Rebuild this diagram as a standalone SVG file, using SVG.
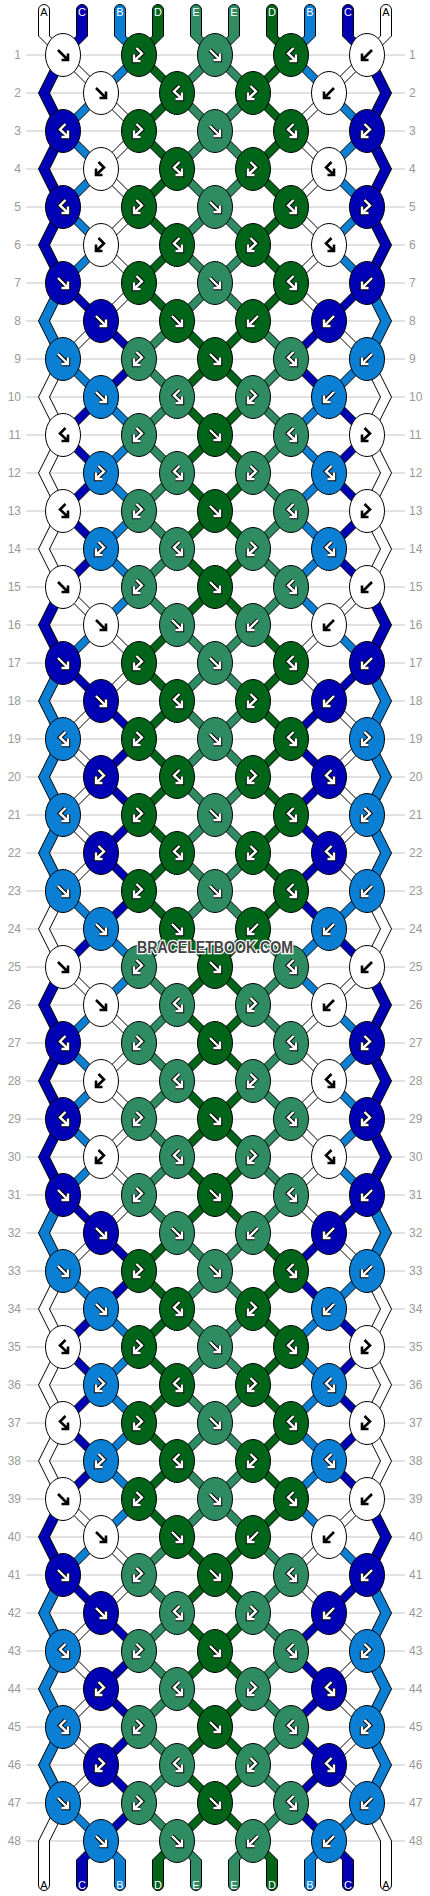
<svg xmlns="http://www.w3.org/2000/svg" xmlns:xlink="http://www.w3.org/1999/xlink" width="430" height="1896" viewBox="0 0 430 1896">
<style>
.gl{stroke:#c4c4c4;stroke-width:1;fill:none}
.s{stroke:#000;stroke-width:1;stroke-linejoin:miter}
.w{fill:#fff}.k{fill:#0000b4}.l{fill:#0a7fd4}.g{fill:#006419}.m{fill:#2e8b62}
.ab{stroke:#000;stroke-width:2.6}
.ao{stroke:#000;stroke-width:4.4}
.ai{stroke:#fff;stroke-width:2.4}
.rn{font-family:"Liberation Sans",Arial,sans-serif;font-size:12px;fill:#999}
.lb{font-family:"Liberation Sans",Arial,sans-serif;font-size:11px;text-anchor:middle;fill:#fff}
.lb .a{fill:#000}
.wm{font-family:"Liberation Sans",Arial,sans-serif;font-weight:bold;font-size:16px;fill:#444;stroke:#fff;stroke-width:2.5;paint-order:stroke;text-anchor:middle}
</style>
<defs>
<ellipse id="e" rx="17.5" ry="21.5" stroke="#000" stroke-width="1"/>
<path id="sf" fill="none" d="M-5,-5L4,4M-1.5,5H5V-1.5"/>
<path id="sb" fill="none" d="M5,-5L-4,4M1.5,5H-5V-1.5"/>
<path id="sp" fill="none" d="M2.5,-7L-3,-1.5L4,5M-1.5,6H5V-0.5"/>
<path id="sq" fill="none" d="M-2.5,-7L3,-1.5L-4,5M1.5,6H-5V-0.5"/>
<g id="fB"><use href="#sf" class="ab"/></g>
<g id="bB"><use href="#sb" class="ab"/></g>
<g id="pB"><use href="#sp" class="ab"/></g>
<g id="qB"><use href="#sq" class="ab"/></g>
<g id="fW"><use href="#sf" class="ao"/><use href="#sf" class="ai"/></g>
<g id="bW"><use href="#sb" class="ao"/><use href="#sb" class="ai"/></g>
<g id="pW"><use href="#sp" class="ao"/><use href="#sp" class="ai"/></g>
<g id="qW"><use href="#sq" class="ao"/><use href="#sq" class="ai"/></g>
</defs>
<rect width="430" height="1896" fill="#fff"/>
<path class="gl" d="M26,55H405M26,93H405M26,131H405M26,169H405M26,207H405M26,245H405M26,283H405M26,321H405M26,359H405M26,397H405M26,435H405M26,473H405M26,511H405M26,549H405M26,587H405M26,625H405M26,663H405M26,701H405M26,739H405M26,777H405M26,815H405M26,853H405M26,891H405M26,929H405M26,967H405M26,1005H405M26,1043H405M26,1081H405M26,1119H405M26,1157H405M26,1195H405M26,1233H405M26,1271H405M26,1309H405M26,1347H405M26,1385H405M26,1423H405M26,1461H405M26,1499H405M26,1537H405M26,1575H405M26,1613H405M26,1651H405M26,1689H405M26,1727H405M26,1765H405M26,1803H405M26,1841H405"/>
<g id="connectors">
<path class="w s" d="M38.5,36V10A5.5,5.5 0 0 1 49.5,10V36L68.5,55H57.5ZM380.5,36V10A5.5,5.5 0 0 1 391.5,10V36L372.5,55H361.5ZM57.5,1803L38.5,1841V1885A5.5,5.5 0 0 0 49.5,1885V1841L68.5,1803ZM361.5,1803L380.5,1841V1885A5.5,5.5 0 0 0 391.5,1885V1841L372.5,1803Z
M57.5,359l-19,38l19,38h11l-19,-38l19,-38zM361.5,359l19,38l-19,38h11l19,-38l-19,-38z
M57.5,435l-19,38l19,38h11l-19,-38l19,-38zM361.5,435l19,38l-19,38h11l19,-38l-19,-38z
M57.5,511l-19,38l19,38h11l-19,-38l19,-38zM361.5,511l19,38l-19,38h11l19,-38l-19,-38z
M57.5,891l-19,38l19,38h11l-19,-38l19,-38zM361.5,891l19,38l-19,38h11l19,-38l-19,-38z
M57.5,1271l-19,38l19,38h11l-19,-38l19,-38zM361.5,1271l19,38l-19,38h11l19,-38l-19,-38z
M57.5,1347l-19,38l19,38h11l-19,-38l19,-38zM361.5,1347l19,38l-19,38h11l19,-38l-19,-38z
M57.5,1423l-19,38l19,38h11l-19,-38l19,-38zM361.5,1423l19,38l-19,38h11l19,-38l-19,-38z
M57.5,55h11l38,38h-11zM361.5,55h11l-38,38h-11z
M95.5,93h11l38,38h-11zM323.5,93h11l-38,38h-11z
M133.5,131h11l-38,38h-11zM285.5,131h11l38,38h-11z
M95.5,169h11l38,38h-11zM323.5,169h11l-38,38h-11z
M133.5,207h11l-38,38h-11zM285.5,207h11l38,38h-11z
M95.5,245h11l38,38h-11zM323.5,245h11l-38,38h-11z
M133.5,283h11l-38,38h-11zM285.5,283h11l38,38h-11z
M95.5,321h11l-38,38h-11zM323.5,321h11l38,38h-11z
M57.5,587h11l38,38h-11zM361.5,587h11l-38,38h-11z
M95.5,625h11l38,38h-11zM323.5,625h11l-38,38h-11z
M133.5,663h11l-38,38h-11zM285.5,663h11l38,38h-11z
M95.5,701h11l-38,38h-11zM323.5,701h11l38,38h-11z
M57.5,739h11l38,38h-11zM361.5,739h11l-38,38h-11z
M95.5,777h11l-38,38h-11zM323.5,777h11l38,38h-11z
M57.5,815h11l38,38h-11zM361.5,815h11l-38,38h-11z
M95.5,853h11l-38,38h-11zM323.5,853h11l38,38h-11z
M57.5,967h11l38,38h-11zM361.5,967h11l-38,38h-11z
M95.5,1005h11l38,38h-11zM323.5,1005h11l-38,38h-11z
M133.5,1043h11l-38,38h-11zM285.5,1043h11l38,38h-11z
M95.5,1081h11l38,38h-11zM323.5,1081h11l-38,38h-11z
M133.5,1119h11l-38,38h-11zM285.5,1119h11l38,38h-11z
M95.5,1157h11l38,38h-11zM323.5,1157h11l-38,38h-11z
M133.5,1195h11l-38,38h-11zM285.5,1195h11l38,38h-11z
M95.5,1233h11l-38,38h-11zM323.5,1233h11l38,38h-11z
M57.5,1499h11l38,38h-11zM361.5,1499h11l-38,38h-11z
M95.5,1537h11l38,38h-11zM323.5,1537h11l-38,38h-11z
M133.5,1575h11l-38,38h-11zM285.5,1575h11l38,38h-11z
M95.5,1613h11l-38,38h-11zM323.5,1613h11l38,38h-11z
M57.5,1651h11l38,38h-11zM361.5,1651h11l-38,38h-11z
M95.5,1689h11l-38,38h-11zM323.5,1689h11l38,38h-11z
M57.5,1727h11l38,38h-11zM361.5,1727h11l-38,38h-11z
M95.5,1765h11l-38,38h-11zM323.5,1765h11l38,38h-11z"/>
<path class="k s" d="M76.5,36V10A5.5,5.5 0 0 1 87.5,10V36L68.5,55H57.5ZM342.5,36V10A5.5,5.5 0 0 1 353.5,10V36L372.5,55H361.5ZM95.5,1841L76.5,1860V1885A5.5,5.5 0 0 0 87.5,1885V1860L106.5,1841ZM323.5,1841L342.5,1860V1885A5.5,5.5 0 0 0 353.5,1885V1860L334.5,1841Z
M57.5,55l-19,38l19,38h11l-19,-38l19,-38zM361.5,55l19,38l-19,38h11l19,-38l-19,-38z
M57.5,131l-19,38l19,38h11l-19,-38l19,-38zM361.5,131l19,38l-19,38h11l19,-38l-19,-38z
M57.5,207l-19,38l19,38h11l-19,-38l19,-38zM361.5,207l19,38l-19,38h11l19,-38l-19,-38z
M57.5,587l-19,38l19,38h11l-19,-38l19,-38zM361.5,587l19,38l-19,38h11l19,-38l-19,-38z
M57.5,967l-19,38l19,38h11l-19,-38l19,-38zM361.5,967l19,38l-19,38h11l19,-38l-19,-38z
M57.5,1043l-19,38l19,38h11l-19,-38l19,-38zM361.5,1043l19,38l-19,38h11l19,-38l-19,-38z
M57.5,1119l-19,38l19,38h11l-19,-38l19,-38zM361.5,1119l19,38l-19,38h11l19,-38l-19,-38z
M57.5,1499l-19,38l19,38h11l-19,-38l19,-38zM361.5,1499l19,38l-19,38h11l19,-38l-19,-38z
M57.5,283h11l38,38h-11zM361.5,283h11l-38,38h-11z
M95.5,321h11l38,38h-11zM323.5,321h11l-38,38h-11z
M133.5,359h11l-38,38h-11zM285.5,359h11l38,38h-11z
M95.5,397h11l-38,38h-11zM323.5,397h11l38,38h-11z
M57.5,435h11l38,38h-11zM361.5,435h11l-38,38h-11z
M95.5,473h11l-38,38h-11zM323.5,473h11l38,38h-11z
M57.5,511h11l38,38h-11zM361.5,511h11l-38,38h-11z
M95.5,549h11l-38,38h-11zM323.5,549h11l38,38h-11z
M57.5,663h11l38,38h-11zM361.5,663h11l-38,38h-11z
M95.5,701h11l38,38h-11zM323.5,701h11l-38,38h-11z
M133.5,739h11l-38,38h-11zM285.5,739h11l38,38h-11z
M95.5,777h11l38,38h-11zM323.5,777h11l-38,38h-11z
M133.5,815h11l-38,38h-11zM285.5,815h11l38,38h-11z
M95.5,853h11l38,38h-11zM323.5,853h11l-38,38h-11z
M133.5,891h11l-38,38h-11zM285.5,891h11l38,38h-11z
M95.5,929h11l-38,38h-11zM323.5,929h11l38,38h-11z
M57.5,1195h11l38,38h-11zM361.5,1195h11l-38,38h-11z
M95.5,1233h11l38,38h-11zM323.5,1233h11l-38,38h-11z
M133.5,1271h11l-38,38h-11zM285.5,1271h11l38,38h-11z
M95.5,1309h11l-38,38h-11zM323.5,1309h11l38,38h-11z
M57.5,1347h11l38,38h-11zM361.5,1347h11l-38,38h-11z
M95.5,1385h11l-38,38h-11zM323.5,1385h11l38,38h-11z
M57.5,1423h11l38,38h-11zM361.5,1423h11l-38,38h-11z
M95.5,1461h11l-38,38h-11zM323.5,1461h11l38,38h-11z
M57.5,1575h11l38,38h-11zM361.5,1575h11l-38,38h-11z
M95.5,1613h11l38,38h-11zM323.5,1613h11l-38,38h-11z
M133.5,1651h11l-38,38h-11zM285.5,1651h11l38,38h-11z
M95.5,1689h11l38,38h-11zM323.5,1689h11l-38,38h-11z
M133.5,1727h11l-38,38h-11zM285.5,1727h11l38,38h-11z
M95.5,1765h11l38,38h-11zM323.5,1765h11l-38,38h-11z
M133.5,1803h11l-38,38h-11zM285.5,1803h11l38,38h-11z"/>
<path class="l s" d="M114.5,36V10A5.5,5.5 0 0 1 125.5,10V36L144.5,55H133.5ZM304.5,36V10A5.5,5.5 0 0 1 315.5,10V36L296.5,55H285.5ZM95.5,1841L114.5,1860V1885A5.5,5.5 0 0 0 125.5,1885V1860L106.5,1841ZM323.5,1841L304.5,1860V1885A5.5,5.5 0 0 0 315.5,1885V1860L334.5,1841Z
M57.5,283l-19,38l19,38h11l-19,-38l19,-38zM361.5,283l19,38l-19,38h11l19,-38l-19,-38z
M57.5,663l-19,38l19,38h11l-19,-38l19,-38zM361.5,663l19,38l-19,38h11l19,-38l-19,-38z
M57.5,739l-19,38l19,38h11l-19,-38l19,-38zM361.5,739l19,38l-19,38h11l19,-38l-19,-38z
M57.5,815l-19,38l19,38h11l-19,-38l19,-38zM361.5,815l19,38l-19,38h11l19,-38l-19,-38z
M57.5,1195l-19,38l19,38h11l-19,-38l19,-38zM361.5,1195l19,38l-19,38h11l19,-38l-19,-38z
M57.5,1575l-19,38l19,38h11l-19,-38l19,-38zM361.5,1575l19,38l-19,38h11l19,-38l-19,-38z
M57.5,1651l-19,38l19,38h11l-19,-38l19,-38zM361.5,1651l19,38l-19,38h11l19,-38l-19,-38z
M57.5,1727l-19,38l19,38h11l-19,-38l19,-38zM361.5,1727l19,38l-19,38h11l19,-38l-19,-38z
M133.5,55h11l-38,38h-11zM285.5,55h11l38,38h-11z
M95.5,93h11l-38,38h-11zM323.5,93h11l38,38h-11z
M57.5,131h11l38,38h-11zM361.5,131h11l-38,38h-11z
M95.5,169h11l-38,38h-11zM323.5,169h11l38,38h-11z
M57.5,207h11l38,38h-11zM361.5,207h11l-38,38h-11z
M95.5,245h11l-38,38h-11zM323.5,245h11l38,38h-11z
M57.5,359h11l38,38h-11zM361.5,359h11l-38,38h-11z
M95.5,397h11l38,38h-11zM323.5,397h11l-38,38h-11z
M133.5,435h11l-38,38h-11zM285.5,435h11l38,38h-11z
M95.5,473h11l38,38h-11zM323.5,473h11l-38,38h-11z
M133.5,511h11l-38,38h-11zM285.5,511h11l38,38h-11z
M95.5,549h11l38,38h-11zM323.5,549h11l-38,38h-11z
M133.5,587h11l-38,38h-11zM285.5,587h11l38,38h-11z
M95.5,625h11l-38,38h-11zM323.5,625h11l38,38h-11z
M57.5,891h11l38,38h-11zM361.5,891h11l-38,38h-11z
M95.5,929h11l38,38h-11zM323.5,929h11l-38,38h-11z
M133.5,967h11l-38,38h-11zM285.5,967h11l38,38h-11z
M95.5,1005h11l-38,38h-11zM323.5,1005h11l38,38h-11z
M57.5,1043h11l38,38h-11zM361.5,1043h11l-38,38h-11z
M95.5,1081h11l-38,38h-11zM323.5,1081h11l38,38h-11z
M57.5,1119h11l38,38h-11zM361.5,1119h11l-38,38h-11z
M95.5,1157h11l-38,38h-11zM323.5,1157h11l38,38h-11z
M57.5,1271h11l38,38h-11zM361.5,1271h11l-38,38h-11z
M95.5,1309h11l38,38h-11zM323.5,1309h11l-38,38h-11z
M133.5,1347h11l-38,38h-11zM285.5,1347h11l38,38h-11z
M95.5,1385h11l38,38h-11zM323.5,1385h11l-38,38h-11z
M133.5,1423h11l-38,38h-11zM285.5,1423h11l38,38h-11z
M95.5,1461h11l38,38h-11zM323.5,1461h11l-38,38h-11z
M133.5,1499h11l-38,38h-11zM285.5,1499h11l38,38h-11z
M95.5,1537h11l-38,38h-11zM323.5,1537h11l38,38h-11z
M57.5,1803h11l38,38h-11zM361.5,1803h11l-38,38h-11z"/>
<path class="g s" d="M152.5,36V10A5.5,5.5 0 0 1 163.5,10V36L144.5,55H133.5ZM266.5,36V10A5.5,5.5 0 0 1 277.5,10V36L296.5,55H285.5ZM171.5,1841L152.5,1860V1885A5.5,5.5 0 0 0 163.5,1885V1860L182.5,1841ZM247.5,1841L266.5,1860V1885A5.5,5.5 0 0 0 277.5,1885V1860L258.5,1841Z
M133.5,55h11l38,38h-11zM285.5,55h11l-38,38h-11zM171.5,93h11l-38,38h-11zM247.5,93h11l38,38h-11z
M133.5,131h11l38,38h-11zM285.5,131h11l-38,38h-11zM171.5,169h11l-38,38h-11zM247.5,169h11l38,38h-11z
M133.5,207h11l38,38h-11zM285.5,207h11l-38,38h-11zM171.5,245h11l-38,38h-11zM247.5,245h11l38,38h-11z
M133.5,283h11l38,38h-11zM285.5,283h11l-38,38h-11z
M171.5,321h11l38,38h-11zM247.5,321h11l-38,38h-11zM209.5,359h11l-38,38h-11zM209.5,359h11l38,38h-11z
M171.5,397h11l38,38h-11zM247.5,397h11l-38,38h-11zM209.5,435h11l-38,38h-11zM209.5,435h11l38,38h-11z
M171.5,473h11l38,38h-11zM247.5,473h11l-38,38h-11zM209.5,511h11l-38,38h-11zM209.5,511h11l38,38h-11z
M171.5,549h11l38,38h-11zM247.5,549h11l-38,38h-11zM209.5,587h11l-38,38h-11zM209.5,587h11l38,38h-11z
M171.5,625h11l-38,38h-11zM247.5,625h11l38,38h-11zM133.5,663h11l38,38h-11zM285.5,663h11l-38,38h-11z
M171.5,701h11l-38,38h-11zM247.5,701h11l38,38h-11zM133.5,739h11l38,38h-11zM285.5,739h11l-38,38h-11z
M171.5,777h11l-38,38h-11zM247.5,777h11l38,38h-11zM133.5,815h11l38,38h-11zM285.5,815h11l-38,38h-11z
M171.5,853h11l-38,38h-11zM247.5,853h11l38,38h-11zM133.5,891h11l38,38h-11zM285.5,891h11l-38,38h-11z
M171.5,929h11l38,38h-11zM247.5,929h11l-38,38h-11zM209.5,967h11l-38,38h-11zM209.5,967h11l38,38h-11z
M171.5,1005h11l38,38h-11zM247.5,1005h11l-38,38h-11zM209.5,1043h11l-38,38h-11zM209.5,1043h11l38,38h-11z
M171.5,1081h11l38,38h-11zM247.5,1081h11l-38,38h-11zM209.5,1119h11l-38,38h-11zM209.5,1119h11l38,38h-11z
M171.5,1157h11l38,38h-11zM247.5,1157h11l-38,38h-11zM209.5,1195h11l-38,38h-11zM209.5,1195h11l38,38h-11z
M171.5,1233h11l-38,38h-11zM247.5,1233h11l38,38h-11zM133.5,1271h11l38,38h-11zM285.5,1271h11l-38,38h-11z
M171.5,1309h11l-38,38h-11zM247.5,1309h11l38,38h-11zM133.5,1347h11l38,38h-11zM285.5,1347h11l-38,38h-11z
M171.5,1385h11l-38,38h-11zM247.5,1385h11l38,38h-11zM133.5,1423h11l38,38h-11zM285.5,1423h11l-38,38h-11z
M171.5,1461h11l-38,38h-11zM247.5,1461h11l38,38h-11zM133.5,1499h11l38,38h-11zM285.5,1499h11l-38,38h-11z
M171.5,1537h11l38,38h-11zM247.5,1537h11l-38,38h-11zM209.5,1575h11l-38,38h-11zM209.5,1575h11l38,38h-11z
M171.5,1613h11l38,38h-11zM247.5,1613h11l-38,38h-11zM209.5,1651h11l-38,38h-11zM209.5,1651h11l38,38h-11z
M171.5,1689h11l38,38h-11zM247.5,1689h11l-38,38h-11zM209.5,1727h11l-38,38h-11zM209.5,1727h11l38,38h-11z
M171.5,1765h11l38,38h-11zM247.5,1765h11l-38,38h-11zM209.5,1803h11l-38,38h-11zM209.5,1803h11l38,38h-11z"/>
<path class="m s" d="M190.5,36V10A5.5,5.5 0 0 1 201.5,10V36L220.5,55H209.5ZM228.5,36V10A5.5,5.5 0 0 1 239.5,10V36L220.5,55H209.5ZM171.5,1841L190.5,1860V1885A5.5,5.5 0 0 0 201.5,1885V1860L182.5,1841ZM247.5,1841L228.5,1860V1885A5.5,5.5 0 0 0 239.5,1885V1860L258.5,1841Z
M209.5,55h11l-38,38h-11zM209.5,55h11l38,38h-11zM171.5,93h11l38,38h-11zM247.5,93h11l-38,38h-11z
M209.5,131h11l-38,38h-11zM209.5,131h11l38,38h-11zM171.5,169h11l38,38h-11zM247.5,169h11l-38,38h-11z
M209.5,207h11l-38,38h-11zM209.5,207h11l38,38h-11zM171.5,245h11l38,38h-11zM247.5,245h11l-38,38h-11z
M209.5,283h11l-38,38h-11zM209.5,283h11l38,38h-11z
M171.5,321h11l-38,38h-11zM247.5,321h11l38,38h-11zM133.5,359h11l38,38h-11zM285.5,359h11l-38,38h-11z
M171.5,397h11l-38,38h-11zM247.5,397h11l38,38h-11zM133.5,435h11l38,38h-11zM285.5,435h11l-38,38h-11z
M171.5,473h11l-38,38h-11zM247.5,473h11l38,38h-11zM133.5,511h11l38,38h-11zM285.5,511h11l-38,38h-11z
M171.5,549h11l-38,38h-11zM247.5,549h11l38,38h-11zM133.5,587h11l38,38h-11zM285.5,587h11l-38,38h-11z
M171.5,625h11l38,38h-11zM247.5,625h11l-38,38h-11zM209.5,663h11l-38,38h-11zM209.5,663h11l38,38h-11z
M171.5,701h11l38,38h-11zM247.5,701h11l-38,38h-11zM209.5,739h11l-38,38h-11zM209.5,739h11l38,38h-11z
M171.5,777h11l38,38h-11zM247.5,777h11l-38,38h-11zM209.5,815h11l-38,38h-11zM209.5,815h11l38,38h-11z
M171.5,853h11l38,38h-11zM247.5,853h11l-38,38h-11zM209.5,891h11l-38,38h-11zM209.5,891h11l38,38h-11z
M171.5,929h11l-38,38h-11zM247.5,929h11l38,38h-11zM133.5,967h11l38,38h-11zM285.5,967h11l-38,38h-11z
M171.5,1005h11l-38,38h-11zM247.5,1005h11l38,38h-11zM133.5,1043h11l38,38h-11zM285.5,1043h11l-38,38h-11z
M171.5,1081h11l-38,38h-11zM247.5,1081h11l38,38h-11zM133.5,1119h11l38,38h-11zM285.5,1119h11l-38,38h-11z
M171.5,1157h11l-38,38h-11zM247.5,1157h11l38,38h-11zM133.5,1195h11l38,38h-11zM285.5,1195h11l-38,38h-11z
M171.5,1233h11l38,38h-11zM247.5,1233h11l-38,38h-11zM209.5,1271h11l-38,38h-11zM209.5,1271h11l38,38h-11z
M171.5,1309h11l38,38h-11zM247.5,1309h11l-38,38h-11zM209.5,1347h11l-38,38h-11zM209.5,1347h11l38,38h-11z
M171.5,1385h11l38,38h-11zM247.5,1385h11l-38,38h-11zM209.5,1423h11l-38,38h-11zM209.5,1423h11l38,38h-11z
M171.5,1461h11l38,38h-11zM247.5,1461h11l-38,38h-11zM209.5,1499h11l-38,38h-11zM209.5,1499h11l38,38h-11z
M171.5,1537h11l-38,38h-11zM247.5,1537h11l38,38h-11zM133.5,1575h11l38,38h-11zM285.5,1575h11l-38,38h-11z
M171.5,1613h11l-38,38h-11zM247.5,1613h11l38,38h-11zM133.5,1651h11l38,38h-11zM285.5,1651h11l-38,38h-11z
M171.5,1689h11l-38,38h-11zM247.5,1689h11l38,38h-11zM133.5,1727h11l38,38h-11zM285.5,1727h11l-38,38h-11z
M171.5,1765h11l-38,38h-11zM247.5,1765h11l38,38h-11zM133.5,1803h11l38,38h-11zM285.5,1803h11l-38,38h-11z"/>
</g>
<g id="knots">
<g id="k1a" transform="translate(63,55)"><use href="#e" class="w"/><use href="#fB"/></g>
<g id="k1b" transform="translate(139,55)"><use href="#e" class="g"/><use href="#qW"/></g>
<g id="k1c" transform="translate(215,55)"><use href="#e" class="m"/><use href="#fW"/></g>
<g id="k1d" transform="translate(291,55)"><use href="#e" class="g"/><use href="#pW"/></g>
<g id="k1e" transform="translate(367,55)"><use href="#e" class="w"/><use href="#bB"/></g>
<g id="k2a" transform="translate(101,93)"><use href="#e" class="w"/><use href="#fB"/></g>
<g id="k2b" transform="translate(177,93)"><use href="#e" class="g"/><use href="#pW"/></g>
<g id="k2c" transform="translate(253,93)"><use href="#e" class="g"/><use href="#qW"/></g>
<g id="k2d" transform="translate(329,93)"><use href="#e" class="w"/><use href="#bB"/></g>
<g id="k3a" transform="translate(63,131)"><use href="#e" class="k"/><use href="#pW"/></g>
<g id="k3b" transform="translate(139,131)"><use href="#e" class="g"/><use href="#qW"/></g>
<g id="k3c" transform="translate(215,131)"><use href="#e" class="m"/><use href="#fW"/></g>
<g id="k3d" transform="translate(291,131)"><use href="#e" class="g"/><use href="#pW"/></g>
<g id="k3e" transform="translate(367,131)"><use href="#e" class="k"/><use href="#qW"/></g>
<g id="k4a" transform="translate(101,169)"><use href="#e" class="w"/><use href="#qB"/></g>
<g id="k4b" transform="translate(177,169)"><use href="#e" class="g"/><use href="#pW"/></g>
<g id="k4c" transform="translate(253,169)"><use href="#e" class="g"/><use href="#qW"/></g>
<g id="k4d" transform="translate(329,169)"><use href="#e" class="w"/><use href="#pB"/></g>
<g id="k5a" transform="translate(63,207)"><use href="#e" class="k"/><use href="#pW"/></g>
<g id="k5b" transform="translate(139,207)"><use href="#e" class="g"/><use href="#qW"/></g>
<g id="k5c" transform="translate(215,207)"><use href="#e" class="m"/><use href="#fW"/></g>
<g id="k5d" transform="translate(291,207)"><use href="#e" class="g"/><use href="#pW"/></g>
<g id="k5e" transform="translate(367,207)"><use href="#e" class="k"/><use href="#qW"/></g>
<g id="k6a" transform="translate(101,245)"><use href="#e" class="w"/><use href="#qB"/></g>
<g id="k6b" transform="translate(177,245)"><use href="#e" class="g"/><use href="#pW"/></g>
<g id="k6c" transform="translate(253,245)"><use href="#e" class="g"/><use href="#qW"/></g>
<g id="k6d" transform="translate(329,245)"><use href="#e" class="w"/><use href="#pB"/></g>
<g id="k7a" transform="translate(63,283)"><use href="#e" class="k"/><use href="#fW"/></g>
<g id="k7b" transform="translate(139,283)"><use href="#e" class="g"/><use href="#qW"/></g>
<g id="k7c" transform="translate(215,283)"><use href="#e" class="m"/><use href="#fW"/></g>
<g id="k7d" transform="translate(291,283)"><use href="#e" class="g"/><use href="#pW"/></g>
<g id="k7e" transform="translate(367,283)"><use href="#e" class="k"/><use href="#bW"/></g>
<g id="k8a" transform="translate(101,321)"><use href="#e" class="k"/><use href="#fW"/></g>
<g id="k8b" transform="translate(177,321)"><use href="#e" class="g"/><use href="#fW"/></g>
<g id="k8c" transform="translate(253,321)"><use href="#e" class="g"/><use href="#bW"/></g>
<g id="k8d" transform="translate(329,321)"><use href="#e" class="k"/><use href="#bW"/></g>
<g id="k9a" transform="translate(63,359)"><use href="#e" class="l"/><use href="#fW"/></g>
<g id="k9b" transform="translate(139,359)"><use href="#e" class="m"/><use href="#qW"/></g>
<g id="k9c" transform="translate(215,359)"><use href="#e" class="g"/><use href="#fW"/></g>
<g id="k9d" transform="translate(291,359)"><use href="#e" class="m"/><use href="#pW"/></g>
<g id="k9e" transform="translate(367,359)"><use href="#e" class="l"/><use href="#bW"/></g>
<g id="k10a" transform="translate(101,397)"><use href="#e" class="l"/><use href="#fW"/></g>
<g id="k10b" transform="translate(177,397)"><use href="#e" class="m"/><use href="#pW"/></g>
<g id="k10c" transform="translate(253,397)"><use href="#e" class="m"/><use href="#qW"/></g>
<g id="k10d" transform="translate(329,397)"><use href="#e" class="l"/><use href="#bW"/></g>
<g id="k11a" transform="translate(63,435)"><use href="#e" class="w"/><use href="#pB"/></g>
<g id="k11b" transform="translate(139,435)"><use href="#e" class="m"/><use href="#qW"/></g>
<g id="k11c" transform="translate(215,435)"><use href="#e" class="g"/><use href="#fW"/></g>
<g id="k11d" transform="translate(291,435)"><use href="#e" class="m"/><use href="#pW"/></g>
<g id="k11e" transform="translate(367,435)"><use href="#e" class="w"/><use href="#qB"/></g>
<g id="k12a" transform="translate(101,473)"><use href="#e" class="l"/><use href="#qW"/></g>
<g id="k12b" transform="translate(177,473)"><use href="#e" class="m"/><use href="#pW"/></g>
<g id="k12c" transform="translate(253,473)"><use href="#e" class="m"/><use href="#qW"/></g>
<g id="k12d" transform="translate(329,473)"><use href="#e" class="l"/><use href="#pW"/></g>
<g id="k13a" transform="translate(63,511)"><use href="#e" class="w"/><use href="#pB"/></g>
<g id="k13b" transform="translate(139,511)"><use href="#e" class="m"/><use href="#qW"/></g>
<g id="k13c" transform="translate(215,511)"><use href="#e" class="g"/><use href="#fW"/></g>
<g id="k13d" transform="translate(291,511)"><use href="#e" class="m"/><use href="#pW"/></g>
<g id="k13e" transform="translate(367,511)"><use href="#e" class="w"/><use href="#qB"/></g>
<g id="k14a" transform="translate(101,549)"><use href="#e" class="l"/><use href="#qW"/></g>
<g id="k14b" transform="translate(177,549)"><use href="#e" class="m"/><use href="#pW"/></g>
<g id="k14c" transform="translate(253,549)"><use href="#e" class="m"/><use href="#qW"/></g>
<g id="k14d" transform="translate(329,549)"><use href="#e" class="l"/><use href="#pW"/></g>
<g id="k15a" transform="translate(63,587)"><use href="#e" class="w"/><use href="#fB"/></g>
<g id="k15b" transform="translate(139,587)"><use href="#e" class="m"/><use href="#qW"/></g>
<g id="k15c" transform="translate(215,587)"><use href="#e" class="g"/><use href="#fW"/></g>
<g id="k15d" transform="translate(291,587)"><use href="#e" class="m"/><use href="#pW"/></g>
<g id="k15e" transform="translate(367,587)"><use href="#e" class="w"/><use href="#bB"/></g>
<g id="k16a" transform="translate(101,625)"><use href="#e" class="w"/><use href="#fB"/></g>
<g id="k16b" transform="translate(177,625)"><use href="#e" class="m"/><use href="#fW"/></g>
<g id="k16c" transform="translate(253,625)"><use href="#e" class="m"/><use href="#bW"/></g>
<g id="k16d" transform="translate(329,625)"><use href="#e" class="w"/><use href="#bB"/></g>
<g id="k17a" transform="translate(63,663)"><use href="#e" class="k"/><use href="#fW"/></g>
<g id="k17b" transform="translate(139,663)"><use href="#e" class="g"/><use href="#qW"/></g>
<g id="k17c" transform="translate(215,663)"><use href="#e" class="m"/><use href="#fW"/></g>
<g id="k17d" transform="translate(291,663)"><use href="#e" class="g"/><use href="#pW"/></g>
<g id="k17e" transform="translate(367,663)"><use href="#e" class="k"/><use href="#bW"/></g>
<g id="k18a" transform="translate(101,701)"><use href="#e" class="k"/><use href="#fW"/></g>
<g id="k18b" transform="translate(177,701)"><use href="#e" class="g"/><use href="#pW"/></g>
<g id="k18c" transform="translate(253,701)"><use href="#e" class="g"/><use href="#qW"/></g>
<g id="k18d" transform="translate(329,701)"><use href="#e" class="k"/><use href="#bW"/></g>
<g id="k19a" transform="translate(63,739)"><use href="#e" class="l"/><use href="#pW"/></g>
<g id="k19b" transform="translate(139,739)"><use href="#e" class="g"/><use href="#qW"/></g>
<g id="k19c" transform="translate(215,739)"><use href="#e" class="m"/><use href="#fW"/></g>
<g id="k19d" transform="translate(291,739)"><use href="#e" class="g"/><use href="#pW"/></g>
<g id="k19e" transform="translate(367,739)"><use href="#e" class="l"/><use href="#qW"/></g>
<g id="k20a" transform="translate(101,777)"><use href="#e" class="k"/><use href="#qW"/></g>
<g id="k20b" transform="translate(177,777)"><use href="#e" class="g"/><use href="#pW"/></g>
<g id="k20c" transform="translate(253,777)"><use href="#e" class="g"/><use href="#qW"/></g>
<g id="k20d" transform="translate(329,777)"><use href="#e" class="k"/><use href="#pW"/></g>
<g id="k21a" transform="translate(63,815)"><use href="#e" class="l"/><use href="#pW"/></g>
<g id="k21b" transform="translate(139,815)"><use href="#e" class="g"/><use href="#qW"/></g>
<g id="k21c" transform="translate(215,815)"><use href="#e" class="m"/><use href="#fW"/></g>
<g id="k21d" transform="translate(291,815)"><use href="#e" class="g"/><use href="#pW"/></g>
<g id="k21e" transform="translate(367,815)"><use href="#e" class="l"/><use href="#qW"/></g>
<g id="k22a" transform="translate(101,853)"><use href="#e" class="k"/><use href="#qW"/></g>
<g id="k22b" transform="translate(177,853)"><use href="#e" class="g"/><use href="#pW"/></g>
<g id="k22c" transform="translate(253,853)"><use href="#e" class="g"/><use href="#qW"/></g>
<g id="k22d" transform="translate(329,853)"><use href="#e" class="k"/><use href="#pW"/></g>
<g id="k23a" transform="translate(63,891)"><use href="#e" class="l"/><use href="#fW"/></g>
<g id="k23b" transform="translate(139,891)"><use href="#e" class="g"/><use href="#qW"/></g>
<g id="k23c" transform="translate(215,891)"><use href="#e" class="m"/><use href="#fW"/></g>
<g id="k23d" transform="translate(291,891)"><use href="#e" class="g"/><use href="#pW"/></g>
<g id="k23e" transform="translate(367,891)"><use href="#e" class="l"/><use href="#bW"/></g>
<g id="k24a" transform="translate(101,929)"><use href="#e" class="l"/><use href="#fW"/></g>
<g id="k24b" transform="translate(177,929)"><use href="#e" class="g"/><use href="#fW"/></g>
<g id="k24c" transform="translate(253,929)"><use href="#e" class="g"/><use href="#bW"/></g>
<g id="k24d" transform="translate(329,929)"><use href="#e" class="l"/><use href="#bW"/></g>
<g id="k25a" transform="translate(63,967)"><use href="#e" class="w"/><use href="#fB"/></g>
<g id="k25b" transform="translate(139,967)"><use href="#e" class="m"/><use href="#qW"/></g>
<g id="k25c" transform="translate(215,967)"><use href="#e" class="g"/><use href="#fW"/></g>
<g id="k25d" transform="translate(291,967)"><use href="#e" class="m"/><use href="#pW"/></g>
<g id="k25e" transform="translate(367,967)"><use href="#e" class="w"/><use href="#bB"/></g>
<g id="k26a" transform="translate(101,1005)"><use href="#e" class="w"/><use href="#fB"/></g>
<g id="k26b" transform="translate(177,1005)"><use href="#e" class="m"/><use href="#pW"/></g>
<g id="k26c" transform="translate(253,1005)"><use href="#e" class="m"/><use href="#qW"/></g>
<g id="k26d" transform="translate(329,1005)"><use href="#e" class="w"/><use href="#bB"/></g>
<g id="k27a" transform="translate(63,1043)"><use href="#e" class="k"/><use href="#pW"/></g>
<g id="k27b" transform="translate(139,1043)"><use href="#e" class="m"/><use href="#qW"/></g>
<g id="k27c" transform="translate(215,1043)"><use href="#e" class="g"/><use href="#fW"/></g>
<g id="k27d" transform="translate(291,1043)"><use href="#e" class="m"/><use href="#pW"/></g>
<g id="k27e" transform="translate(367,1043)"><use href="#e" class="k"/><use href="#qW"/></g>
<g id="k28a" transform="translate(101,1081)"><use href="#e" class="w"/><use href="#qB"/></g>
<g id="k28b" transform="translate(177,1081)"><use href="#e" class="m"/><use href="#pW"/></g>
<g id="k28c" transform="translate(253,1081)"><use href="#e" class="m"/><use href="#qW"/></g>
<g id="k28d" transform="translate(329,1081)"><use href="#e" class="w"/><use href="#pB"/></g>
<g id="k29a" transform="translate(63,1119)"><use href="#e" class="k"/><use href="#pW"/></g>
<g id="k29b" transform="translate(139,1119)"><use href="#e" class="m"/><use href="#qW"/></g>
<g id="k29c" transform="translate(215,1119)"><use href="#e" class="g"/><use href="#fW"/></g>
<g id="k29d" transform="translate(291,1119)"><use href="#e" class="m"/><use href="#pW"/></g>
<g id="k29e" transform="translate(367,1119)"><use href="#e" class="k"/><use href="#qW"/></g>
<g id="k30a" transform="translate(101,1157)"><use href="#e" class="w"/><use href="#qB"/></g>
<g id="k30b" transform="translate(177,1157)"><use href="#e" class="m"/><use href="#pW"/></g>
<g id="k30c" transform="translate(253,1157)"><use href="#e" class="m"/><use href="#qW"/></g>
<g id="k30d" transform="translate(329,1157)"><use href="#e" class="w"/><use href="#pB"/></g>
<g id="k31a" transform="translate(63,1195)"><use href="#e" class="k"/><use href="#fW"/></g>
<g id="k31b" transform="translate(139,1195)"><use href="#e" class="m"/><use href="#qW"/></g>
<g id="k31c" transform="translate(215,1195)"><use href="#e" class="g"/><use href="#fW"/></g>
<g id="k31d" transform="translate(291,1195)"><use href="#e" class="m"/><use href="#pW"/></g>
<g id="k31e" transform="translate(367,1195)"><use href="#e" class="k"/><use href="#bW"/></g>
<g id="k32a" transform="translate(101,1233)"><use href="#e" class="k"/><use href="#fW"/></g>
<g id="k32b" transform="translate(177,1233)"><use href="#e" class="m"/><use href="#fW"/></g>
<g id="k32c" transform="translate(253,1233)"><use href="#e" class="m"/><use href="#bW"/></g>
<g id="k32d" transform="translate(329,1233)"><use href="#e" class="k"/><use href="#bW"/></g>
<g id="k33a" transform="translate(63,1271)"><use href="#e" class="l"/><use href="#fW"/></g>
<g id="k33b" transform="translate(139,1271)"><use href="#e" class="g"/><use href="#qW"/></g>
<g id="k33c" transform="translate(215,1271)"><use href="#e" class="m"/><use href="#fW"/></g>
<g id="k33d" transform="translate(291,1271)"><use href="#e" class="g"/><use href="#pW"/></g>
<g id="k33e" transform="translate(367,1271)"><use href="#e" class="l"/><use href="#bW"/></g>
<g id="k34a" transform="translate(101,1309)"><use href="#e" class="l"/><use href="#fW"/></g>
<g id="k34b" transform="translate(177,1309)"><use href="#e" class="g"/><use href="#pW"/></g>
<g id="k34c" transform="translate(253,1309)"><use href="#e" class="g"/><use href="#qW"/></g>
<g id="k34d" transform="translate(329,1309)"><use href="#e" class="l"/><use href="#bW"/></g>
<g id="k35a" transform="translate(63,1347)"><use href="#e" class="w"/><use href="#pB"/></g>
<g id="k35b" transform="translate(139,1347)"><use href="#e" class="g"/><use href="#qW"/></g>
<g id="k35c" transform="translate(215,1347)"><use href="#e" class="m"/><use href="#fW"/></g>
<g id="k35d" transform="translate(291,1347)"><use href="#e" class="g"/><use href="#pW"/></g>
<g id="k35e" transform="translate(367,1347)"><use href="#e" class="w"/><use href="#qB"/></g>
<g id="k36a" transform="translate(101,1385)"><use href="#e" class="l"/><use href="#qW"/></g>
<g id="k36b" transform="translate(177,1385)"><use href="#e" class="g"/><use href="#pW"/></g>
<g id="k36c" transform="translate(253,1385)"><use href="#e" class="g"/><use href="#qW"/></g>
<g id="k36d" transform="translate(329,1385)"><use href="#e" class="l"/><use href="#pW"/></g>
<g id="k37a" transform="translate(63,1423)"><use href="#e" class="w"/><use href="#pB"/></g>
<g id="k37b" transform="translate(139,1423)"><use href="#e" class="g"/><use href="#qW"/></g>
<g id="k37c" transform="translate(215,1423)"><use href="#e" class="m"/><use href="#fW"/></g>
<g id="k37d" transform="translate(291,1423)"><use href="#e" class="g"/><use href="#pW"/></g>
<g id="k37e" transform="translate(367,1423)"><use href="#e" class="w"/><use href="#qB"/></g>
<g id="k38a" transform="translate(101,1461)"><use href="#e" class="l"/><use href="#qW"/></g>
<g id="k38b" transform="translate(177,1461)"><use href="#e" class="g"/><use href="#pW"/></g>
<g id="k38c" transform="translate(253,1461)"><use href="#e" class="g"/><use href="#qW"/></g>
<g id="k38d" transform="translate(329,1461)"><use href="#e" class="l"/><use href="#pW"/></g>
<g id="k39a" transform="translate(63,1499)"><use href="#e" class="w"/><use href="#fB"/></g>
<g id="k39b" transform="translate(139,1499)"><use href="#e" class="g"/><use href="#qW"/></g>
<g id="k39c" transform="translate(215,1499)"><use href="#e" class="m"/><use href="#fW"/></g>
<g id="k39d" transform="translate(291,1499)"><use href="#e" class="g"/><use href="#pW"/></g>
<g id="k39e" transform="translate(367,1499)"><use href="#e" class="w"/><use href="#bB"/></g>
<g id="k40a" transform="translate(101,1537)"><use href="#e" class="w"/><use href="#fB"/></g>
<g id="k40b" transform="translate(177,1537)"><use href="#e" class="g"/><use href="#fW"/></g>
<g id="k40c" transform="translate(253,1537)"><use href="#e" class="g"/><use href="#bW"/></g>
<g id="k40d" transform="translate(329,1537)"><use href="#e" class="w"/><use href="#bB"/></g>
<g id="k41a" transform="translate(63,1575)"><use href="#e" class="k"/><use href="#fW"/></g>
<g id="k41b" transform="translate(139,1575)"><use href="#e" class="m"/><use href="#qW"/></g>
<g id="k41c" transform="translate(215,1575)"><use href="#e" class="g"/><use href="#fW"/></g>
<g id="k41d" transform="translate(291,1575)"><use href="#e" class="m"/><use href="#pW"/></g>
<g id="k41e" transform="translate(367,1575)"><use href="#e" class="k"/><use href="#bW"/></g>
<g id="k42a" transform="translate(101,1613)"><use href="#e" class="k"/><use href="#fW"/></g>
<g id="k42b" transform="translate(177,1613)"><use href="#e" class="m"/><use href="#pW"/></g>
<g id="k42c" transform="translate(253,1613)"><use href="#e" class="m"/><use href="#qW"/></g>
<g id="k42d" transform="translate(329,1613)"><use href="#e" class="k"/><use href="#bW"/></g>
<g id="k43a" transform="translate(63,1651)"><use href="#e" class="l"/><use href="#pW"/></g>
<g id="k43b" transform="translate(139,1651)"><use href="#e" class="m"/><use href="#qW"/></g>
<g id="k43c" transform="translate(215,1651)"><use href="#e" class="g"/><use href="#fW"/></g>
<g id="k43d" transform="translate(291,1651)"><use href="#e" class="m"/><use href="#pW"/></g>
<g id="k43e" transform="translate(367,1651)"><use href="#e" class="l"/><use href="#qW"/></g>
<g id="k44a" transform="translate(101,1689)"><use href="#e" class="k"/><use href="#qW"/></g>
<g id="k44b" transform="translate(177,1689)"><use href="#e" class="m"/><use href="#pW"/></g>
<g id="k44c" transform="translate(253,1689)"><use href="#e" class="m"/><use href="#qW"/></g>
<g id="k44d" transform="translate(329,1689)"><use href="#e" class="k"/><use href="#pW"/></g>
<g id="k45a" transform="translate(63,1727)"><use href="#e" class="l"/><use href="#pW"/></g>
<g id="k45b" transform="translate(139,1727)"><use href="#e" class="m"/><use href="#qW"/></g>
<g id="k45c" transform="translate(215,1727)"><use href="#e" class="g"/><use href="#fW"/></g>
<g id="k45d" transform="translate(291,1727)"><use href="#e" class="m"/><use href="#pW"/></g>
<g id="k45e" transform="translate(367,1727)"><use href="#e" class="l"/><use href="#qW"/></g>
<g id="k46a" transform="translate(101,1765)"><use href="#e" class="k"/><use href="#qW"/></g>
<g id="k46b" transform="translate(177,1765)"><use href="#e" class="m"/><use href="#pW"/></g>
<g id="k46c" transform="translate(253,1765)"><use href="#e" class="m"/><use href="#qW"/></g>
<g id="k46d" transform="translate(329,1765)"><use href="#e" class="k"/><use href="#pW"/></g>
<g id="k47a" transform="translate(63,1803)"><use href="#e" class="l"/><use href="#fW"/></g>
<g id="k47b" transform="translate(139,1803)"><use href="#e" class="m"/><use href="#qW"/></g>
<g id="k47c" transform="translate(215,1803)"><use href="#e" class="g"/><use href="#fW"/></g>
<g id="k47d" transform="translate(291,1803)"><use href="#e" class="m"/><use href="#pW"/></g>
<g id="k47e" transform="translate(367,1803)"><use href="#e" class="l"/><use href="#bW"/></g>
<g id="k48a" transform="translate(101,1841)"><use href="#e" class="l"/><use href="#fW"/></g>
<g id="k48b" transform="translate(177,1841)"><use href="#e" class="m"/><use href="#fW"/></g>
<g id="k48c" transform="translate(253,1841)"><use href="#e" class="m"/><use href="#bW"/></g>
<g id="k48d" transform="translate(329,1841)"><use href="#e" class="l"/><use href="#bW"/></g>
</g>
<g id="string-labels" class="lb">
<text x="44" y="16" class="a">A</text><text x="82" y="16">C</text><text x="120" y="16">B</text><text x="158" y="16">D</text><text x="196" y="16">E</text><text x="234" y="16">E</text><text x="272" y="16">D</text><text x="310" y="16">B</text><text x="348" y="16">C</text><text x="386" y="16" class="a">A</text>
<text x="44" y="1889" class="a">A</text><text x="82" y="1889">C</text><text x="120" y="1889">B</text><text x="158" y="1889">D</text><text x="196" y="1889">E</text><text x="234" y="1889">E</text><text x="272" y="1889">D</text><text x="310" y="1889">B</text><text x="348" y="1889">C</text><text x="386" y="1889" class="a">A</text>
</g>
<g id="row-numbers" class="rn">
<text text-anchor="end"><tspan x="21" y="59">1</tspan><tspan x="21" y="97">2</tspan><tspan x="21" y="135">3</tspan><tspan x="21" y="173">4</tspan><tspan x="21" y="211">5</tspan><tspan x="21" y="249">6</tspan><tspan x="21" y="287">7</tspan><tspan x="21" y="325">8</tspan><tspan x="21" y="363">9</tspan><tspan x="21" y="401">10</tspan><tspan x="21" y="439">11</tspan><tspan x="21" y="477">12</tspan><tspan x="21" y="515">13</tspan><tspan x="21" y="553">14</tspan><tspan x="21" y="591">15</tspan><tspan x="21" y="629">16</tspan><tspan x="21" y="667">17</tspan><tspan x="21" y="705">18</tspan><tspan x="21" y="743">19</tspan><tspan x="21" y="781">20</tspan><tspan x="21" y="819">21</tspan><tspan x="21" y="857">22</tspan><tspan x="21" y="895">23</tspan><tspan x="21" y="933">24</tspan><tspan x="21" y="971">25</tspan><tspan x="21" y="1009">26</tspan><tspan x="21" y="1047">27</tspan><tspan x="21" y="1085">28</tspan><tspan x="21" y="1123">29</tspan><tspan x="21" y="1161">30</tspan><tspan x="21" y="1199">31</tspan><tspan x="21" y="1237">32</tspan><tspan x="21" y="1275">33</tspan><tspan x="21" y="1313">34</tspan><tspan x="21" y="1351">35</tspan><tspan x="21" y="1389">36</tspan><tspan x="21" y="1427">37</tspan><tspan x="21" y="1465">38</tspan><tspan x="21" y="1503">39</tspan><tspan x="21" y="1541">40</tspan><tspan x="21" y="1579">41</tspan><tspan x="21" y="1617">42</tspan><tspan x="21" y="1655">43</tspan><tspan x="21" y="1693">44</tspan><tspan x="21" y="1731">45</tspan><tspan x="21" y="1769">46</tspan><tspan x="21" y="1807">47</tspan><tspan x="21" y="1845">48</tspan></text>
<text><tspan x="409" y="59">1</tspan><tspan x="409" y="97">2</tspan><tspan x="409" y="135">3</tspan><tspan x="409" y="173">4</tspan><tspan x="409" y="211">5</tspan><tspan x="409" y="249">6</tspan><tspan x="409" y="287">7</tspan><tspan x="409" y="325">8</tspan><tspan x="409" y="363">9</tspan><tspan x="409" y="401">10</tspan><tspan x="409" y="439">11</tspan><tspan x="409" y="477">12</tspan><tspan x="409" y="515">13</tspan><tspan x="409" y="553">14</tspan><tspan x="409" y="591">15</tspan><tspan x="409" y="629">16</tspan><tspan x="409" y="667">17</tspan><tspan x="409" y="705">18</tspan><tspan x="409" y="743">19</tspan><tspan x="409" y="781">20</tspan><tspan x="409" y="819">21</tspan><tspan x="409" y="857">22</tspan><tspan x="409" y="895">23</tspan><tspan x="409" y="933">24</tspan><tspan x="409" y="971">25</tspan><tspan x="409" y="1009">26</tspan><tspan x="409" y="1047">27</tspan><tspan x="409" y="1085">28</tspan><tspan x="409" y="1123">29</tspan><tspan x="409" y="1161">30</tspan><tspan x="409" y="1199">31</tspan><tspan x="409" y="1237">32</tspan><tspan x="409" y="1275">33</tspan><tspan x="409" y="1313">34</tspan><tspan x="409" y="1351">35</tspan><tspan x="409" y="1389">36</tspan><tspan x="409" y="1427">37</tspan><tspan x="409" y="1465">38</tspan><tspan x="409" y="1503">39</tspan><tspan x="409" y="1541">40</tspan><tspan x="409" y="1579">41</tspan><tspan x="409" y="1617">42</tspan><tspan x="409" y="1655">43</tspan><tspan x="409" y="1693">44</tspan><tspan x="409" y="1731">45</tspan><tspan x="409" y="1769">46</tspan><tspan x="409" y="1807">47</tspan><tspan x="409" y="1845">48</tspan></text>
</g>
<text class="wm" x="215" y="953" textLength="156" lengthAdjust="spacingAndGlyphs">BRACELETBOOK.COM</text>
</svg>
